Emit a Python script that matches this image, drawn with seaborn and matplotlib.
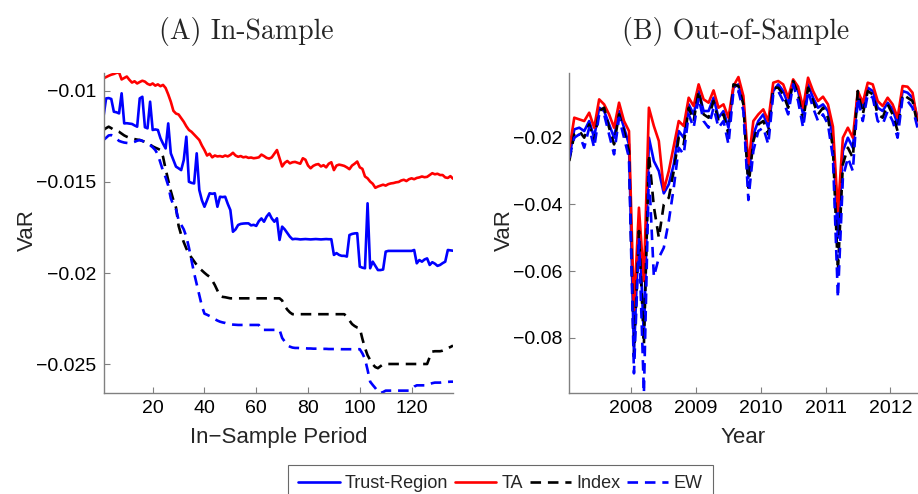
import numpy as np
import pandas as pd
import matplotlib
matplotlib.use("Agg")
import matplotlib.pyplot as plt
import matplotlib.dates as mdates
from matplotlib.lines import Line2D
import seaborn as sns

# ---------------- data: (A) in-sample ----------------
periods = list(range(1, 137))

ta_in = [-0.00932, -0.00925, -0.00918, -0.00912, -0.00908, -0.00902, -0.00900, -0.00938, -0.00930, -0.00922,
         -0.00940, -0.00955, -0.00948, -0.00960, -0.00952, -0.00945, -0.00950, -0.00962, -0.00968, -0.00960,
         -0.00972, -0.00965, -0.00975, -0.00968, -0.00985, -0.01020, -0.01060, -0.01110, -0.01125, -0.01130,
         -0.01150, -0.01170, -0.01195, -0.01215, -0.01225, -0.01240, -0.01255, -0.01270, -0.01300, -0.01325,
         -0.01355, -0.01345, -0.01365, -0.01355, -0.01360, -0.01358, -0.01362, -0.01355, -0.01360, -0.01352,
         -0.01340, -0.01355, -0.01362, -0.01358, -0.01365, -0.01362, -0.01368, -0.01366, -0.01370, -0.01368,
         -0.01365, -0.01350, -0.01358, -0.01368, -0.01372, -0.01365, -0.01345, -0.01325, -0.01370, -0.01415,
         -0.01395, -0.01385, -0.01398, -0.01392, -0.01390, -0.01395, -0.01400, -0.01370, -0.01378, -0.01410,
         -0.01425, -0.01412, -0.01405, -0.01402, -0.01415, -0.01408, -0.01420, -0.01400, -0.01392, -0.01435,
         -0.01410, -0.01405, -0.01408, -0.01412, -0.01420, -0.01430, -0.01410, -0.01400, -0.01388, -0.01420,
         -0.01428, -0.01470, -0.01480, -0.01498, -0.01510, -0.01532, -0.01525, -0.01520, -0.01515, -0.01520,
         -0.01512, -0.01508, -0.01506, -0.01502, -0.01500, -0.01492, -0.01488, -0.01495, -0.01485, -0.01480,
         -0.01485, -0.01478, -0.01475, -0.01470, -0.01474, -0.01472, -0.01462, -0.01452, -0.01458, -0.01455,
         -0.01462, -0.01462, -0.01475, -0.01478, -0.01468, -0.01482]

tr_in = [-0.01142, -0.01042, -0.01040, -0.01045, -0.01115, -0.01118, -0.01124, -0.01014, -0.01179, -0.01178,
         -0.01180, -0.01182, -0.01190, -0.01197, -0.01042, -0.01033, -0.01200, -0.01206, -0.01060, -0.01215,
         -0.01212, -0.01215, -0.01260, -0.01290, -0.01316, -0.01179, -0.01343, -0.01380, -0.01416, -0.01425,
         -0.01435, -0.01380, -0.01252, -0.01499, -0.01505, -0.01508, -0.01343, -0.01544, -0.01600, -0.01636,
         -0.01600, -0.01562, -0.01565, -0.01562, -0.01636, -0.01581, -0.01583, -0.01581, -0.01620, -0.01654,
         -0.01773, -0.01760, -0.01736, -0.01730, -0.01728, -0.01727, -0.01727, -0.01738, -0.01735, -0.01741,
         -0.01715, -0.01700, -0.01718, -0.01690, -0.01672, -0.01700, -0.01718, -0.01699, -0.01818, -0.01745,
         -0.01760, -0.01780, -0.01800, -0.01814, -0.01812, -0.01813, -0.01815, -0.01814, -0.01813, -0.01814,
         -0.01815, -0.01814, -0.01813, -0.01814, -0.01815, -0.01814, -0.01813, -0.01814, -0.01814, -0.01900,
         -0.01890, -0.01900, -0.01905, -0.01905, -0.01909, -0.01791, -0.01785, -0.01782, -0.01781, -0.01964,
         -0.01970, -0.01973, -0.01617, -0.01973, -0.01937, -0.01960, -0.01983, -0.01983, -0.01980, -0.01882,
         -0.01878, -0.01878, -0.01878, -0.01878, -0.01878, -0.01878, -0.01878, -0.01878, -0.01878, -0.01878,
         -0.01873, -0.01946, -0.01928, -0.01937, -0.01925, -0.01919, -0.01955, -0.01940, -0.01948, -0.01960,
         -0.01955, -0.01945, -0.01937, -0.01873, -0.01875, -0.01877]

idx_in = [-0.01215, -0.01205, -0.01197, -0.01205, -0.01215, -0.01220, -0.01225, -0.01235, -0.01245, -0.01252,
          -0.01258, -0.01262, -0.01265, -0.01268, -0.01270, -0.01275, -0.01280, -0.01288, -0.01295, -0.01305,
          -0.01312, -0.01318, -0.01325, -0.01362, -0.01430, -0.01490, -0.01550, -0.01600, -0.01640, -0.01740,
          -0.01790, -0.01830, -0.01865, -0.01895, -0.01915, -0.01935, -0.01955, -0.01973, -0.01985, -0.01998,
          -0.02010, -0.02020, -0.02040, -0.02065, -0.02095, -0.02125, -0.02130, -0.02132, -0.02135, -0.02138,
          -0.02138, -0.02138, -0.02138, -0.02138, -0.02138, -0.02138, -0.02138, -0.02138, -0.02138, -0.02138,
          -0.02138, -0.02138, -0.02138, -0.02138, -0.02138, -0.02138, -0.02138, -0.02138, -0.02138, -0.02150,
          -0.02180, -0.02200, -0.02215, -0.02225, -0.02225, -0.02225, -0.02225, -0.02225, -0.02225, -0.02225,
          -0.02225, -0.02225, -0.02225, -0.02225, -0.02225, -0.02225, -0.02225, -0.02225, -0.02225, -0.02225,
          -0.02225, -0.02225, -0.02225, -0.02225, -0.02240, -0.02260, -0.02279, -0.02290, -0.02298, -0.02302,
          -0.02360, -0.02410, -0.02450, -0.02476, -0.02500, -0.02515, -0.02521, -0.02510, -0.02500, -0.02498,
          -0.02498, -0.02498, -0.02498, -0.02498, -0.02498, -0.02498, -0.02498, -0.02498, -0.02498, -0.02498,
          -0.02498, -0.02498, -0.02498, -0.02498, -0.02498, -0.02498, -0.02460, -0.02430, -0.02428, -0.02428,
          -0.02428, -0.02425, -0.02420, -0.02410, -0.02405, -0.02397]

ew_in = [-0.01270, -0.01258, -0.01245, -0.01243, -0.01250, -0.01262, -0.01275, -0.01280, -0.01284, -0.01286,
         -0.01288, -0.01285, -0.01280, -0.01274, -0.01270, -0.01275, -0.01282, -0.01290, -0.01298, -0.01310,
         -0.01325, -0.01350, -0.01395, -0.01440, -0.01475, -0.01520, -0.01590, -0.01626, -0.01650, -0.01709,
         -0.01735, -0.01760, -0.01800, -0.01860, -0.01930, -0.02000, -0.02060, -0.02120, -0.02180, -0.02222,
         -0.02228, -0.02235, -0.02245, -0.02252, -0.02260, -0.02266, -0.02270, -0.02273, -0.02278, -0.02280,
         -0.02282, -0.02283, -0.02284, -0.02284, -0.02284, -0.02284, -0.02284, -0.02284, -0.02284, -0.02284,
         -0.02284, -0.02311, -0.02311, -0.02311, -0.02311, -0.02311, -0.02311, -0.02311, -0.02311, -0.02355,
         -0.02375, -0.02395, -0.02403, -0.02408, -0.02410, -0.02410, -0.02411, -0.02412, -0.02412, -0.02413,
         -0.02413, -0.02414, -0.02414, -0.02414, -0.02415, -0.02415, -0.02415, -0.02416, -0.02416, -0.02416,
         -0.02416, -0.02416, -0.02417, -0.02417, -0.02417, -0.02417, -0.02417, -0.02417, -0.02417, -0.02417,
         -0.02440, -0.02470, -0.02530, -0.02595, -0.02613, -0.02630, -0.02650, -0.02657, -0.02652, -0.02644,
         -0.02644, -0.02644, -0.02644, -0.02644, -0.02644, -0.02644, -0.02644, -0.02644, -0.02644, -0.02635,
         -0.02622, -0.02615, -0.02615, -0.02615, -0.02615, -0.02615, -0.02608, -0.02603, -0.02600, -0.02600,
         -0.02600, -0.02598, -0.02598, -0.02596, -0.02595, -0.02595]

# ---------------- data: (B) out-of-sample (4-weekly) ----------------
dates_out = pd.date_range("2007-01-19", periods=71, freq="28D")

ta_out = [-0.0235, -0.0140, -0.0145, -0.0150, -0.0125, -0.0170, -0.0085, -0.0100, -0.0130, -0.0170,
          -0.0095, -0.0150, -0.0180, -0.0717, -0.0410, -0.0630, -0.0110, -0.0165, -0.0210, -0.0357,
          -0.0300, -0.0225, -0.0150, -0.0165, -0.0080, -0.0105, -0.0040, -0.0085, -0.0095, -0.0058,
          -0.0110, -0.0100, -0.0140, -0.0045, -0.0018, -0.0075, -0.0280, -0.0150, -0.0130, -0.0115,
          -0.0150, -0.0035, -0.0030, -0.0040, -0.0080, -0.0025, -0.0047, -0.0110, -0.0020, -0.0060,
          -0.0090, -0.0077, -0.0100, -0.0167, -0.0420, -0.0200, -0.0170, -0.0200, -0.0060, -0.0095,
          -0.0035, -0.0040, -0.0090, -0.0105, -0.0080, -0.0100, -0.0140, -0.0045, -0.0047, -0.0065,
          -0.0150]

tr_out = [-0.0260, -0.0175, -0.0170, -0.0180, -0.0150, -0.0200, -0.0110, -0.0120, -0.0160, -0.0200,
          -0.0120, -0.0170, -0.0220, -0.0850, -0.0450, -0.0800, -0.0200, -0.0270, -0.0300, -0.0367,
          -0.0340, -0.0280, -0.0180, -0.0200, -0.0100, -0.0130, -0.0060, -0.0120, -0.0120, -0.0080,
          -0.0140, -0.0120, -0.0170, -0.0050, -0.0040, -0.0090, -0.0320, -0.0190, -0.0150, -0.0130,
          -0.0170, -0.0060, -0.0040, -0.0060, -0.0100, -0.0035, -0.0060, -0.0130, -0.0040, -0.0080,
          -0.0110, -0.0100, -0.0120, -0.0200, -0.0500, -0.0240, -0.0200, -0.0230, -0.0070, -0.0110,
          -0.0050, -0.0060, -0.0110, -0.0120, -0.0095, -0.0115, -0.0160, -0.0060, -0.0065, -0.0080,
          -0.0140]

idx_out = [-0.0270, -0.0190, -0.0180, -0.0200, -0.0160, -0.0210, -0.0120, -0.0110, -0.0170, -0.0220,
           -0.0130, -0.0180, -0.0240, -0.0857, -0.0480, -0.0820, -0.0250, -0.0407, -0.0500, -0.0400,
           -0.0380, -0.0300, -0.0200, -0.0220, -0.0110, -0.0150, -0.0060, -0.0130, -0.0140, -0.0090,
           -0.0150, -0.0130, -0.0190, -0.0040, -0.0045, -0.0100, -0.0350, -0.0210, -0.0160, -0.0150,
           -0.0190, -0.0050, -0.0050, -0.0070, -0.0110, -0.0030, -0.0070, -0.0150, -0.0050, -0.0090,
           -0.0130, -0.0110, -0.0140, -0.0230, -0.0600, -0.0280, -0.0230, -0.0260, -0.0060, -0.0130,
           -0.0060, -0.0070, -0.0130, -0.0140, -0.0100, -0.0130, -0.0180, -0.0070, -0.0080, -0.0090,
           -0.0160]

ew_out = [-0.0260, -0.0200, -0.0190, -0.0230, -0.0170, -0.0230, -0.0130, -0.0130, -0.0190, -0.0250,
          -0.0140, -0.0200, -0.0260, -0.0907, -0.0500, -0.0966, -0.0300, -0.0617, -0.0560, -0.0530,
          -0.0450, -0.0350, -0.0230, -0.0250, -0.0130, -0.0170, -0.0080, -0.0150, -0.0170, -0.0110,
          -0.0170, -0.0150, -0.0220, -0.0060, -0.0060, -0.0120, -0.0387, -0.0240, -0.0180, -0.0170,
          -0.0220, -0.0070, -0.0060, -0.0090, -0.0130, -0.0040, -0.0090, -0.0170, -0.0060, -0.0110,
          -0.0150, -0.0130, -0.0160, -0.0260, -0.0680, -0.0320, -0.0260, -0.0300, -0.0080, -0.0150,
          -0.0070, -0.0080, -0.0150, -0.0160, -0.0120, -0.0150, -0.0200, -0.0080, -0.0090, -0.0110,
          -0.0170]

series_names = ["Trust-Region", "TA", "Index", "EW"]
series_colors = ["#0000ff", "#ff0000", "#000000", "#0000ff"]
dash = (0, (4, 2.6))
series_styles = ["-", "-", dash, dash]

yticks_A = [-0.025, -0.02, -0.015, -0.01]
yticklabels_A = ["\u22120.025", "\u22120.02", "\u22120.015", "\u22120.01"]
xticks_A = [20, 40, 60, 80, 100, 120]
yticks_B = [-0.08, -0.06, -0.04, -0.02]
yticklabels_B = ["\u22120.08", "\u22120.06", "\u22120.04", "\u22120.02"]

# ---------------- style ----------------
sns.set_style("white")
plt.rcParams["font.family"] = ["Liberation Sans", "DejaVu Sans"]

W, H = 918, 494
fig = plt.figure(figsize=(W / 100, H / 100), dpi=100)

def frac_axes(x0, y0, x1, y1):
    return fig.add_axes([x0 / W, 1 - y1 / H, (x1 - x0) / W, (y1 - y0) / H])

axA = frac_axes(103.5, 72.7, 453.0, 393.0)
axB = frac_axes(569.3, 72.7, 917.5, 393.0)

lw = 1.9
for vals, c, s in zip([tr_in, ta_in, idx_in, ew_in], series_colors, series_styles):
    sns.lineplot(x=periods, y=vals, ax=axA, color=c, linestyle=s, linewidth=lw,
                 estimator=None, sort=False, legend=False)
for vals, c, s in zip([tr_out, ta_out, idx_out, ew_out], series_colors, series_styles):
    sns.lineplot(x=dates_out, y=vals, ax=axB, color=c, linestyle=s, linewidth=lw,
                 estimator=None, sort=False, legend=False)

spine_col = "#808080"
for ax in (axA, axB):
    for side in ("top", "right"):
        ax.spines[side].set_visible(False)
    for side in ("left", "bottom"):
        ax.spines[side].set_color(spine_col)
        ax.spines[side].set_linewidth(1.0)
    ax.tick_params(direction="in", length=4, width=0.8, color=spine_col,
                   labelsize=14, bottom=True, left=True, labelcolor="black", pad=5)
    ax.set_ylabel("VaR", fontsize=16)

axA.set_xlim(1, 136)
axA.set_ylim(-0.02657, -0.00901)
axA.set_xticks(xticks_A)
axA.set_yticks(yticks_A)
axA.set_yticklabels(yticklabels_A)
axA.set_xlabel("In\u2212Sample Period", fontsize=16, labelpad=7)
axA.yaxis.set_label_coords((38 - 103.5) / 349.5, 0.51)

axB.set_xlim(dates_out[0], dates_out[-1])
axB.set_ylim(-0.0966, -0.0005)
axB.xaxis.set_major_locator(mdates.YearLocator())
axB.xaxis.set_major_formatter(mdates.DateFormatter("%Y"))
axB.set_yticks(yticks_B)
axB.set_yticklabels(yticklabels_B)
axB.set_xlabel("Year", fontsize=16, labelpad=7)
axB.yaxis.set_label_coords((515 - 569.3) / 348.2, 0.51)

fig.text(246 / W, 1 - 32 / H, "(A) In-Sample", ha="center", va="center",
         fontfamily="cmr10", fontsize=20)
fig.text(736 / W, 1 - 32 / H, "(B) Out-of-Sample", ha="center", va="center",
         fontfamily="cmr10", fontsize=20)

handles = [Line2D([], [], color=c, linestyle=s, linewidth=lw)
           for c, s in zip(series_colors, series_styles)]
leg = fig.legend(handles, series_names, loc="upper center",
                 bbox_to_anchor=(500.5 / W, 1 - 465 / H), ncol=4, fontsize=13,
                 frameon=True, fancybox=False, edgecolor="#444444",
                 handlelength=2.3, handletextpad=0.3, columnspacing=0.35,
                 borderpad=0.55, borderaxespad=0)
leg.get_frame().set_linewidth(0.8)

fig.savefig("out.png", dpi=100)
